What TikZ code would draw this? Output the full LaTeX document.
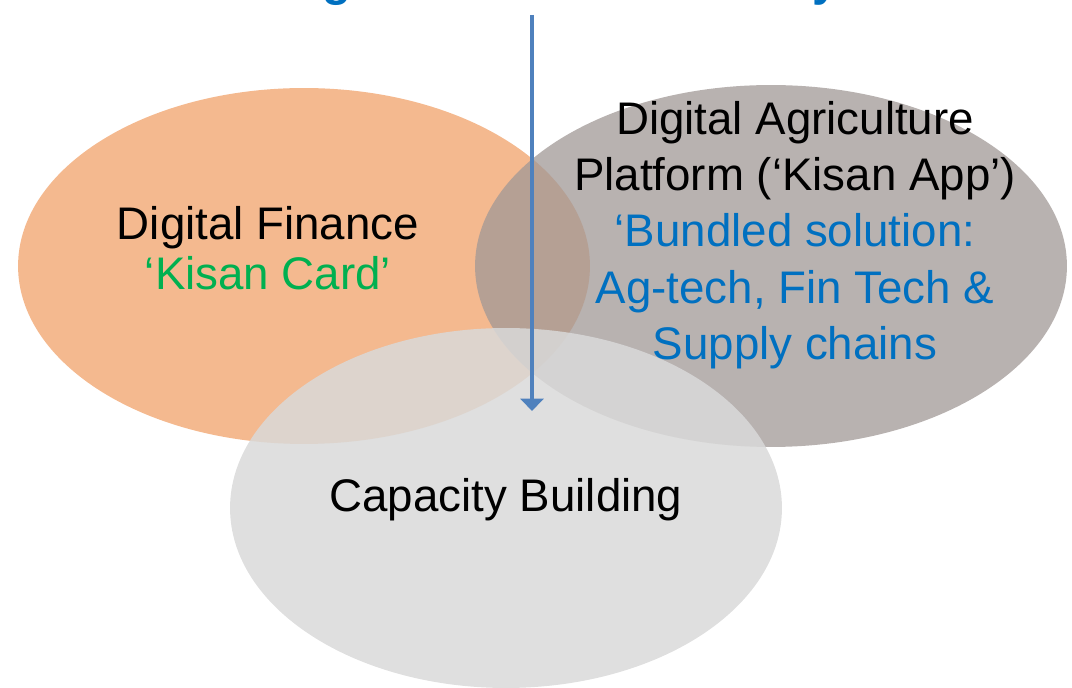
\documentclass[tikz,border=0pt]{standalone}
\usepackage{fontspec}
\setmainfont{Liberation Sans}
\usetikzlibrary{arrows.meta}
\definecolor{peach}{RGB}{244,185,143}
\definecolor{stone}{RGB}{160,152,150}
\definecolor{mist}{RGB}{217,217,217}
\definecolor{kisangreen}{RGB}{0,176,80}
\definecolor{kisanblue}{RGB}{0,112,192}
\definecolor{arrowblue}{RGB}{79,129,189}
\begin{document}
\begin{tikzpicture}[x=0.02cm,y=-0.02cm,
	label/.style={align=center,font=\fontsize{26}{32}\selectfont},
	titlepart/.style={anchor=base,text=kisanblue,font=\fontsize{27}{31}\selectfont\bfseries},
	flow/.style={line width=2.6pt,draw=arrowblue,-{Triangle[width=13pt,length=7pt]}}]
				\useasboundingbox (0,0) rectangle (1072,688);
				\fill[peach] (304,266) ellipse [x radius=5.72cm, y radius=3.56cm];
				\fill[stone,opacity=0.75] (771,266) ellipse [x radius=5.92cm, y radius=3.62cm];
				\fill[mist,opacity=0.85] (506,508) ellipse [x radius=5.52cm, y radius=3.6cm];
				\node[titlepart](tg) at (337,-4){g};
				\node[titlepart](ty) at (826,-4){y};
				\coordinate(top) at (532,15);
				\coordinate(tip) at (532,411);
				\draw[flow](top) to (tip);
				\node[label,font=\fontsize{26}{28.5}\selectfont](finance) at (268,248){Digital Finance\\\textcolor{kisangreen}{`Kisan Card'}};
				\node[label](platform) at (795,235){Digital Agriculture\\Platform (`Kisan App')\\\textcolor{kisanblue}{`Bundled solution:}\\\textcolor{kisanblue}{Ag-tech, Fin Tech \&}\\\textcolor{kisanblue}{Supply chains}};
				\node[label](capacity) at (506,500){Capacity Building};
			\end{tikzpicture}
\end{document}
